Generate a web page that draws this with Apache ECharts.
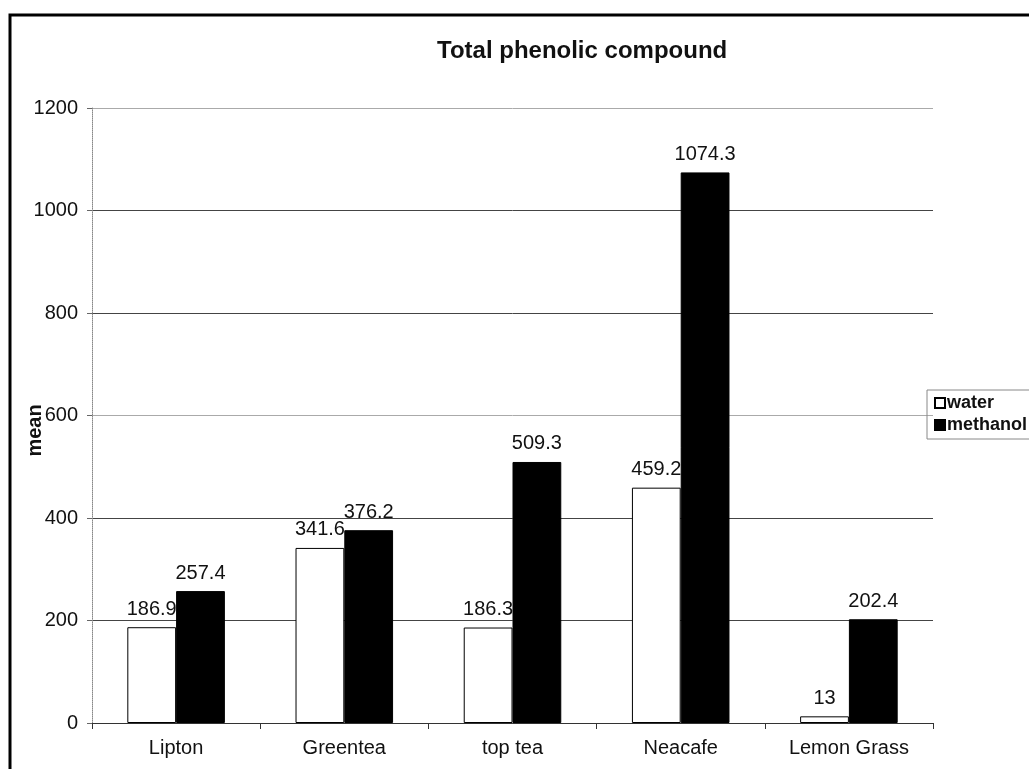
<!DOCTYPE html>
<html>
<head>
<meta charset="utf-8">
<script src="https://cdn.jsdelivr.net/npm/echarts@6/dist/echarts.min.js"></script>
<style>
html,body{margin:0;padding:0;background:#fff;}
#chart{width:1029px;height:769px;}
</style>
</head>
<body>
<div id="chart"></div>
<script>
var categories = ['Lipton', 'Greentea', 'top tea', 'Neacafe', 'Lemon Grass'];
var waterValues = [186.9, 341.6, 186.3, 459.2, 13];
var methanolValues = [257.4, 376.2, 509.3, 1074.3, 202.4];
var seriesNames = ['water', 'methanol'];
var titleText = 'Total phenolic compound';
var yAxisName = 'mean';

var FONT = 'Liberation Sans';
var chart = echarts.init(document.getElementById('chart'), null, {renderer: 'canvas'});

var labelStyle = {
  show: true,
  position: 'top',
  distance: 8,
  color: '#111',
  fontFamily: FONT,
  fontSize: 20
};

chart.setOption({
  backgroundColor: '#fff',
  animation: false,
  title: {
    text: titleText,
    left: 432,
    top: 34,
    textStyle: {fontFamily: FONT, fontSize: 24, fontWeight: 'bold', color: '#111'}
  },
  graphic: [{
    type: 'rect',
    shape: {x: 10, y: 15, width: 1200, height: 900},
    style: {fill: 'none', stroke: '#000', lineWidth: 3},
    silent: true,
    z: 100
  }],
  legend: {
    data: seriesNames,
    orient: 'vertical',
    left: 927,
    top: 390,
    padding: [4, 4, 5, 7],
    itemGap: 4,
    itemWidth: 10,
    itemHeight: 10,
    icon: 'rect',
    borderColor: '#888',
    borderWidth: 1,
    textStyle: {fontFamily: FONT, fontSize: 18, fontWeight: 'bold', color: '#111', padding: [0, 0, 0, -3]}
  },
  grid: {left: 92, right: 96, top: 108, bottom: 46, containLabel: false, outerBoundsMode: 'none'},
  xAxis: {
    type: 'category',
    data: categories,
    boundaryGap: true,
    axisLine: {show: true, lineStyle: {color: '#333', width: 1}},
    axisTick: {show: true, alignWithLabel: false, length: 6, inside: false, lineStyle: {color: '#333'}},
    axisLabel: {fontFamily: FONT, fontSize: 20, color: '#111', margin: 15},
    splitLine: {show: false}
  },
  yAxis: {
    type: 'value',
    min: 0,
    max: 1200,
    interval: 200,
    name: yAxisName,
    nameLocation: 'middle',
    nameGap: 47,
    nameMoveOverlap: false,
    nameRotate: 90,
    nameTextStyle: {fontFamily: FONT, fontSize: 20, fontWeight: 'bold', color: '#111', padding: [0, 30, 0, 0]},
    axisLine: {show: true, lineStyle: {color: '#888', width: 1, type: 'dotted'}},
    axisTick: {show: true, length: 5, lineStyle: {color: '#666'}},
    axisLabel: {fontFamily: FONT, fontSize: 20, color: '#111', margin: 14, formatter: function (v) { return String(v); }},
    splitLine: {show: true, lineStyle: {color: ['#444', '#444', '#444', '#aaa', '#444', '#444', '#aaa'], width: 1}}
  },
  series: [
    {
      name: seriesNames[0],
      type: 'bar',
      data: waterValues,
      barGap: '0%',
      barCategoryGap: '42%',
      z: 2,
      itemStyle: {color: '#fff', borderColor: '#000', borderWidth: 1},
      label: labelStyle
    },
    {
      name: seriesNames[1],
      type: 'bar',
      data: methanolValues,
      barGap: '0%',
      barCategoryGap: '42%',
      z: 3,
      itemStyle: {color: '#000', borderColor: '#000', borderWidth: 1},
      label: labelStyle
    }
  ]
});
</script>
</body>
</html>
